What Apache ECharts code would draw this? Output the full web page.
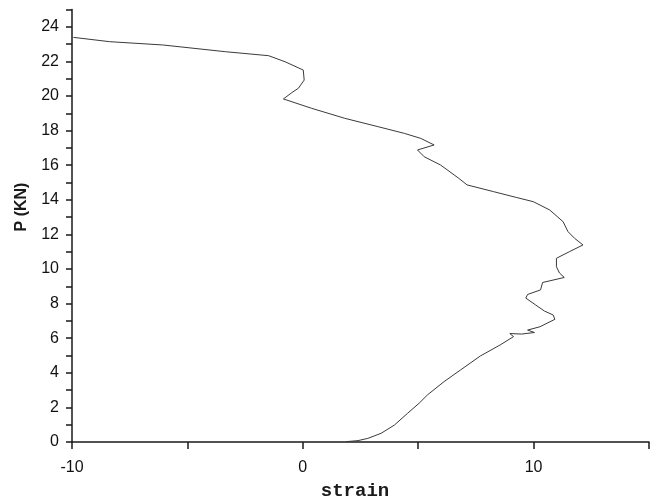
<!DOCTYPE html>
<html>
<head>
<meta charset="utf-8">
<script src="https://cdn.jsdelivr.net/npm/echarts@6/dist/echarts.min.js"></script>
<style>
html,body{margin:0;padding:0;background:#fff;}
#chart{width:652px;height:504px;}
</style>
</head>
<body>
<div id="chart"></div>
<script>
// strain values (x) and load P in kN (y)
var strain = [1.88, 2.39, 2.82, 3.39, 3.97, 4.54, 5.04, 5.40, 6.12, 6.83, 7.69, 8.55, 9.13, 8.97, 9.48, 10.04, 9.74, 10.27, 10.92, 10.85, 10.47, 10.09, 9.66, 9.74, 10.30, 10.39, 11.33, 11.12, 10.99, 10.99, 11.55, 12.14, 11.78, 11.49, 11.28, 10.70, 9.99, 9.27, 8.27, 7.12, 6.76, 5.97, 5.26, 4.97, 5.69, 5.11, 4.40, 3.25, 1.82, 0.38, -0.84, -0.48, -0.19, 0.06, 0.02, -0.77, -1.48, -3.35, -6.07, -8.37, -9.94];
var load = [0.02, 0.08, 0.21, 0.50, 0.98, 1.66, 2.24, 2.72, 3.49, 4.16, 4.97, 5.61, 6.09, 6.27, 6.24, 6.33, 6.47, 6.66, 7.09, 7.34, 7.57, 7.92, 8.32, 8.53, 8.79, 9.22, 9.51, 9.77, 10.13, 10.62, 11.00, 11.39, 11.77, 12.16, 12.73, 13.41, 13.89, 14.13, 14.47, 14.86, 15.24, 16.01, 16.49, 16.88, 17.17, 17.55, 17.84, 18.23, 18.71, 19.29, 19.83, 20.19, 20.45, 20.92, 21.50, 21.98, 22.33, 22.56, 22.95, 23.14, 23.39];
var xLabels = [-10, 0, 10];
var yLabels = [0, 2, 4, 6, 8, 10, 12, 14, 16, 18, 20, 22, 24];

var pts = strain.map(function (s, i) { return [s, load[i]]; });
var chart = echarts.init(document.getElementById('chart'), null, {renderer: 'canvas'});
var axisCol = '#1a1a1a';
chart.setOption({
  animation: false,
  backgroundColor: '#ffffff',
  grid: {left: 72, right: 1, top: 9.5, bottom: 62, containLabel: false},
  xAxis: {
    type: 'value', min: -10, max: 15, interval: 5,
    axisLine: {show: true, onZero: false, lineStyle: {color: axisCol, width: 1.5}},
    axisTick: {show: true, inside: false, length: 7, lineStyle: {color: axisCol, width: 1.5}},
    splitLine: {show: false},
    axisLabel: {
      margin: 18, color: '#111', fontSize: 16, fontFamily: 'Liberation Sans, Arial, sans-serif',
      formatter: function (v) { return xLabels.indexOf(v) >= 0 ? String(v) : ''; }
    }
  },
  yAxis: {
    type: 'value', min: 0, max: 25, interval: 1,
    axisLine: {show: true, onZero: false, lineStyle: {color: axisCol, width: 1.5}},
    axisTick: {show: true, inside: false, length: 6, lineStyle: {color: axisCol, width: 1.5}},
    splitLine: {show: false},
    axisLabel: {
      margin: 13, color: '#111', fontSize: 16, fontFamily: 'Liberation Sans, Arial, sans-serif',
      formatter: function (v) { return yLabels.indexOf(v) >= 0 ? String(v) : ''; }
    }
  },
  graphic: [
    {type: 'text', x: 22, y: 207, rotation: Math.PI / 2,
     style: {text: 'P (KN)', fill: '#1a1a1a', font: 'bold 16px "Liberation Sans", Arial, sans-serif', textAlign: 'center', textVerticalAlign: 'middle'}},
    {type: 'text', x: 355, y: 491,
     style: {text: 'strain', fill: '#1a1a1a', font: 'bold 19px "Liberation Mono", "Courier New", monospace', textAlign: 'center', textVerticalAlign: 'middle'}}
  ],
  series: [{
    type: 'line', data: pts, showSymbol: false, smooth: false,
    lineStyle: {color: '#3a3a3a', width: 1}, clip: true
  }]
});
</script>
</body>
</html>
